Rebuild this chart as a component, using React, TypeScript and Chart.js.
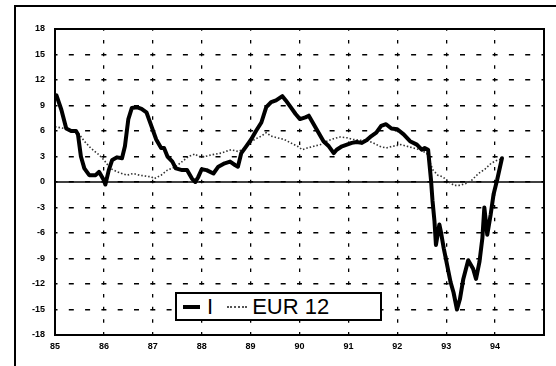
import React, { useEffect, useRef } from "react";
import { Chart, registerables } from "chart.js";

Chart.register(...registerables);

// x axis: years 85..95, ticks labelled 85..94
const xTickLabels = ["85", "86", "87", "88", "89", "90", "91", "92", "93", "94"];
const yTickValues = [18, 15, 12, 9, 6, 3, 0, -3, -6, -9, -12, -15, -18];

// Series "I"
const iYears = [
  85.0, 85.03, 85.13, 85.23, 85.33, 85.43, 85.47, 85.53, 85.6, 85.7, 85.83, 85.9, 86.0, 86.03,
  86.1, 86.17, 86.27, 86.37, 86.43, 86.5, 86.57, 86.67, 86.77, 86.87, 86.97, 87.07, 87.17, 87.23,
  87.3, 87.4, 87.47, 87.6, 87.7, 87.8, 87.87, 87.93, 88.0, 88.1, 88.24, 88.34, 88.47, 88.58,
  88.68, 88.74, 88.81, 88.91, 89.01, 89.11, 89.22, 89.32, 89.42, 89.52, 89.65, 89.72, 89.82,
  89.92, 90.01, 90.12, 90.19, 90.29, 90.39, 90.49, 90.6, 90.7, 90.76, 90.87, 90.97, 91.07,
  91.17, 91.27, 91.37, 91.47, 91.57, 91.67, 91.77, 91.88, 92.0, 92.13, 92.26, 92.4, 92.5,
  92.56, 92.63, 92.69, 92.72, 92.76, 92.79, 92.86, 92.89, 92.95, 93.02, 93.09, 93.15, 93.22,
  93.28, 93.35, 93.45, 93.55, 93.61, 93.68, 93.74, 93.78, 93.84, 93.91, 93.97, 94.04, 94.14,
];
const iValues = [
  10.0, 10.2, 8.5, 6.3, 6.0, 6.0, 5.6, 3.0, 1.6, 0.8, 0.8, 1.2, 0.2, -0.3,
  1.4, 2.6, 2.9, 2.8, 4.2, 7.4, 8.7, 8.8, 8.6, 8.2, 6.6, 5.0, 4.0, 4.0,
  3.0, 2.4, 1.6, 1.4, 1.4, 0.4, 0.0, 0.6, 1.5, 1.4, 1.0, 1.8, 2.2, 2.4,
  2.0, 1.8, 3.4, 4.2, 5.0, 6.0, 7.0, 8.8, 9.4, 9.6, 10.1, 9.6, 8.8,
  8.0, 7.4, 7.6, 7.8, 6.8, 5.8, 4.8, 4.2, 3.4, 3.8, 4.2, 4.4, 4.6,
  4.7, 4.6, 4.9, 5.4, 5.8, 6.6, 6.8, 6.3, 6.2, 5.6, 4.8, 4.4, 3.8,
  4.0, 3.8, 0.2, -2.2, -4.6, -7.4, -5.0, -5.8, -7.8, -9.8, -11.8, -13.0, -15.0,
  -13.8, -11.4, -9.2, -10.2, -11.4, -9.4, -6.6, -3.0, -6.2, -3.8, -1.4, 0.2, 2.8,
];

// Series "EUR 12"
const eurYears = [
  85.0, 85.2, 85.4, 85.47, 85.6, 85.73, 85.9, 86.0, 86.13, 86.27, 86.47, 86.6, 86.73, 86.97,
  87.03, 87.17, 87.3, 87.47, 87.6, 87.73, 87.87, 87.93, 88.07, 88.2, 88.4, 88.6, 88.74, 88.84,
  88.94, 89.08, 89.22, 89.32, 89.42, 89.55, 89.69, 89.82, 89.96, 90.06, 90.16, 90.29, 90.43,
  90.56, 90.7, 90.83, 90.97, 91.1, 91.24, 91.37, 91.51, 91.64, 91.77, 91.9, 92.0, 92.07, 92.2,
  92.33, 92.46, 92.6, 92.66, 92.73, 92.83, 92.93, 93.06, 93.16, 93.26, 93.39, 93.52, 93.66,
  93.79, 93.92, 94.02, 94.12,
];
const eurValues = [
  6.5, 6.3, 6.0, 5.8, 4.8, 4.0, 3.2, 2.6, 1.6, 1.2, 0.8, 1.0, 0.8, 0.6,
  0.4, 0.8, 1.4, 1.8, 2.4, 3.0, 3.3, 3.0, 3.0, 3.2, 3.4, 3.8, 3.6, 3.8,
  4.4, 5.0, 5.4, 5.8, 5.4, 5.2, 5.0, 4.6, 4.2, 3.8, 4.0, 4.2, 4.4,
  4.8, 5.1, 5.3, 5.2, 5.0, 4.9, 4.9, 4.6, 4.2, 4.0, 4.2, 4.3, 4.4, 4.2,
  4.0, 3.8, 3.4, 2.4, 1.4, 0.8, 0.6, 0.0, -0.4, -0.4, -0.2, 0.2, 1.0,
  1.5, 2.2, 2.5, 2.7,
];

const seriesNames = ["I", "EUR 12"];

const W = 556;
const H = 366;

const framePlugin = {
  id: "framePlugin",
  beforeDatasetsDraw(chart: any) {
    const { ctx, chartArea, scales } = chart;
    const y0 = scales.y.getPixelForValue(0);
    ctx.save();
    ctx.strokeStyle = "#000";
    ctx.lineWidth = 1.6;
    ctx.beginPath();
    ctx.moveTo(chartArea.left, y0);
    ctx.lineTo(chartArea.right, y0);
    ctx.stroke();
    ctx.restore();
  },
  afterDraw(chart: any) {
    const { ctx, chartArea } = chart;
    ctx.save();
    ctx.strokeStyle = "#000";
    ctx.lineWidth = 2;
    ctx.strokeRect(
      chartArea.left,
      chartArea.top,
      chartArea.right - chartArea.left,
      chartArea.bottom - chartArea.top
    );
    ctx.restore();
  },
};

export default function App() {
  const canvasRef = useRef<HTMLCanvasElement | null>(null);

  useEffect(() => {
    const canvas = canvasRef.current;
    if (!canvas) return;
    const tickFont = { family: "'Liberation Sans', Arial, sans-serif", size: 9, weight: "bold" as const };
    const chart = new Chart(canvas, {
      type: "line",
      data: {
        datasets: [
          {
            label: seriesNames[0],
            data: iYears.map((x, i) => ({ x, y: iValues[i] })),
            borderColor: "#000",
            borderWidth: 4,
            pointRadius: 0,
            tension: 0,
            borderJoinStyle: "round",
            borderCapStyle: "round",
          },
          {
            label: seriesNames[1],
            data: eurYears.map((x, i) => ({ x, y: eurValues[i] })),
            borderColor: "#333",
            borderWidth: 1.6,
            borderDash: [1.5, 2],
            pointRadius: 0,
            tension: 0,
          },
        ],
      },
      options: {
        responsive: false,
        animation: false,
        layout: { padding: { top: 29, right: 12, left: 0, bottom: 0 } },
        plugins: { legend: { display: false }, tooltip: { enabled: false } },
        scales: {
          x: {
            type: "linear",
            min: 85,
            max: 95,
            afterFit: (s: any) => {
              s.height = 31;
            },
            afterBuildTicks: (s: any) => {
              s.ticks = xTickLabels.map((l) => ({ value: Number(l) }));
            },
            ticks: {
              autoSkip: false,
              maxRotation: 0,
              padding: 6,
              color: "#000",
              font: tickFont,
              callback: (v: any) => xTickLabels.find((l) => Number(l) === v) ?? "",
            },
            grid: { color: "#000", lineWidth: 1.3, drawTicks: false },
            border: { display: false, dash: [3.5, 9.2], dashOffset: 1.75 },
          },
          y: {
            min: -18,
            max: 18,
            afterFit: (s: any) => {
              s.width = 55;
            },
            afterBuildTicks: (s: any) => {
              s.ticks = yTickValues.map((v) => ({ value: v }));
            },
            ticks: {
              autoSkip: false,
              padding: 10,
              color: "#000",
              font: tickFont,
              callback: (v: any) => String(v),
            },
            grid: { color: "#000", lineWidth: 1.5, drawTicks: false },
            border: { display: false, dash: [5, 11.3], dashOffset: 2.5 },
          },
        },
      },
      plugins: [framePlugin],
    } as any);
    return () => chart.destroy();
  }, []);

  return (
    <div
      style={{
        position: "absolute",
        left: 0,
        top: 0,
        width: W,
        height: H,
        background: "#fff",
        overflow: "hidden",
      }}
    >
      <canvas ref={canvasRef} width={W} height={H} style={{ position: "absolute", left: 0, top: 0 }} />
      <div
        style={{
          position: "absolute",
          left: 14,
          top: 5,
          width: 600,
          height: 400,
          borderLeft: "2.5px solid #000",
          borderTop: "2px solid #000",
          pointerEvents: "none",
        }}
      />
      <div
        style={{
          position: "absolute",
          left: 175,
          top: 292,
          width: 207,
          height: 29,
          boxSizing: "border-box",
          border: "2px solid #000",
          background: "#fff",
          display: "flex",
          alignItems: "center",
          fontFamily: "'Liberation Sans', Arial, sans-serif",
          fontSize: 22,
          lineHeight: 1,
          color: "#000",
        }}
      >
        <span style={{ display: "inline-block", width: 17, height: 4, background: "#000", marginLeft: 6 }} />
        <span style={{ marginLeft: 7 }}>{seriesNames[0]}</span>
        <span
          style={{
            display: "inline-block",
            width: 20,
            height: 0,
            borderTop: "2px dotted #555",
            marginLeft: 14,
          }}
        />
        <span style={{ marginLeft: 5 }}>{seriesNames[1]}</span>
      </div>
    </div>
  );
}
